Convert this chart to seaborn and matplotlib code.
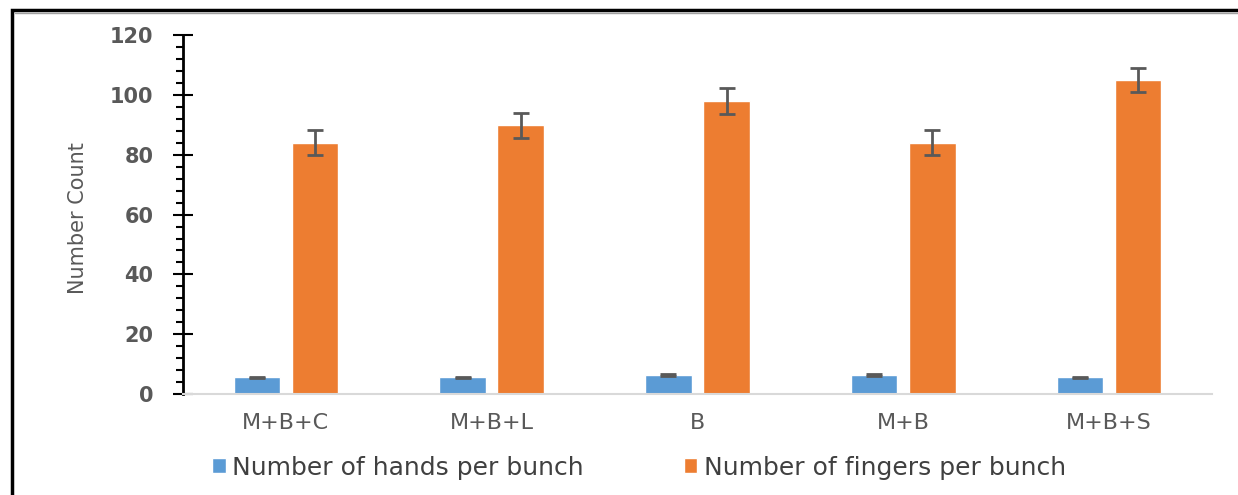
import matplotlib
matplotlib.use("Agg")
import matplotlib.pyplot as plt
from matplotlib.patches import Rectangle
from matplotlib.ticker import MultipleLocator
import numpy as np
import pandas as pd
import seaborn as sns

# treatments on the x axis
treatments = ["M+B+C", "M+B+L", "B", "M+B", "M+B+S"]
series_names = ["Number of hands per bunch", "Number of fingers per bunch"]

# values
hands = [5.6, 5.6, 6.4, 6.4, 5.6]
hands_err = [0.25, 0.25, 0.25, 0.25, 0.25]
fingers = [84, 89.8, 97.9, 84, 105]
fingers_err = [4.2, 4.3, 4.3, 4.2, 4.0]

df = pd.DataFrame({
    "treatment": treatments * 2,
    "series": [series_names[0]] * 5 + [series_names[1]] * 5,
    "count": hands + fingers,
})

sns.set_style("white")
plt.rcParams["font.family"] = ["DejaVu Sans"]

fig = plt.figure(figsize=(12.38, 4.95), dpi=100)
ax = fig.add_axes([0.1478, 0.204, 0.8312, 0.725])

sns.barplot(data=df, x="treatment", y="count", hue="series",
            palette=["#5B9BD5", "#ED7D31"], saturation=1, width=0.564, gap=0.2,
            errorbar=None, legend=False, ax=ax)

bar_sets = list(ax.containers)

# error bars on top of each bar
for cont, errs in zip(bar_sets, [hands_err, fingers_err]):
    xs = [p.get_x() + p.get_width() / 2 for p in cont.patches]
    ys = [p.get_height() for p in cont.patches]
    ax.errorbar(xs, ys, yerr=errs, fmt="none", ecolor="#595959",
                elinewidth=2, capsize=6, capthick=2, zorder=5)

ax.set_xlim(-0.5, 4.5)
ax.set_ylim(0, 120)
ax.yaxis.set_major_locator(MultipleLocator(20))
ax.yaxis.set_minor_locator(MultipleLocator(4))

for side in ["top", "right"]:
    ax.spines[side].set_visible(False)
ax.spines["left"].set_color("black")
ax.spines["left"].set_linewidth(2)
ax.spines["bottom"].set_color("#D9D9D9")
ax.spines["bottom"].set_linewidth(1.5)

ax.tick_params(axis="y", which="major", direction="inout", length=14.4,
               width=1.5, color="black", pad=14, labelsize=15,
               labelcolor="#595959", left=True)
ax.tick_params(axis="y", which="minor", direction="out", length=5,
               width=1.5, color="black", left=True)
ax.tick_params(axis="x", length=0, pad=14, labelsize=16, labelcolor="#595959")
for lab in ax.get_yticklabels():
    lab.set_fontweight("bold")

ax.set_xlabel("")
ax.set_ylabel("Number Count", fontsize=15, color="#595959")
ax.yaxis.set_label_coords(-0.092, 0.49)

handles = [c.patches[0] for c in bar_sets]
fig.legend(handles, series_names, loc="center", bbox_to_anchor=(0.516, 0.055),
           ncol=2, frameon=False, fontsize=18, handlelength=0.55,
           handleheight=0.55, handletextpad=0.25, columnspacing=4.0,
           labelcolor="#404040")

# page border around the chart
fig.patches.append(Rectangle((0.0097, -0.05), 1.1, 1.03, transform=fig.transFigure,
                             fill=False, edgecolor="black", linewidth=2.5))
fig.lines.append(plt.Line2D([0.0125, 1.0], [0.974, 0.974], transform=fig.transFigure,
                            color="#A0A0A0", linewidth=1))

fig.savefig("out.png", dpi=100)
